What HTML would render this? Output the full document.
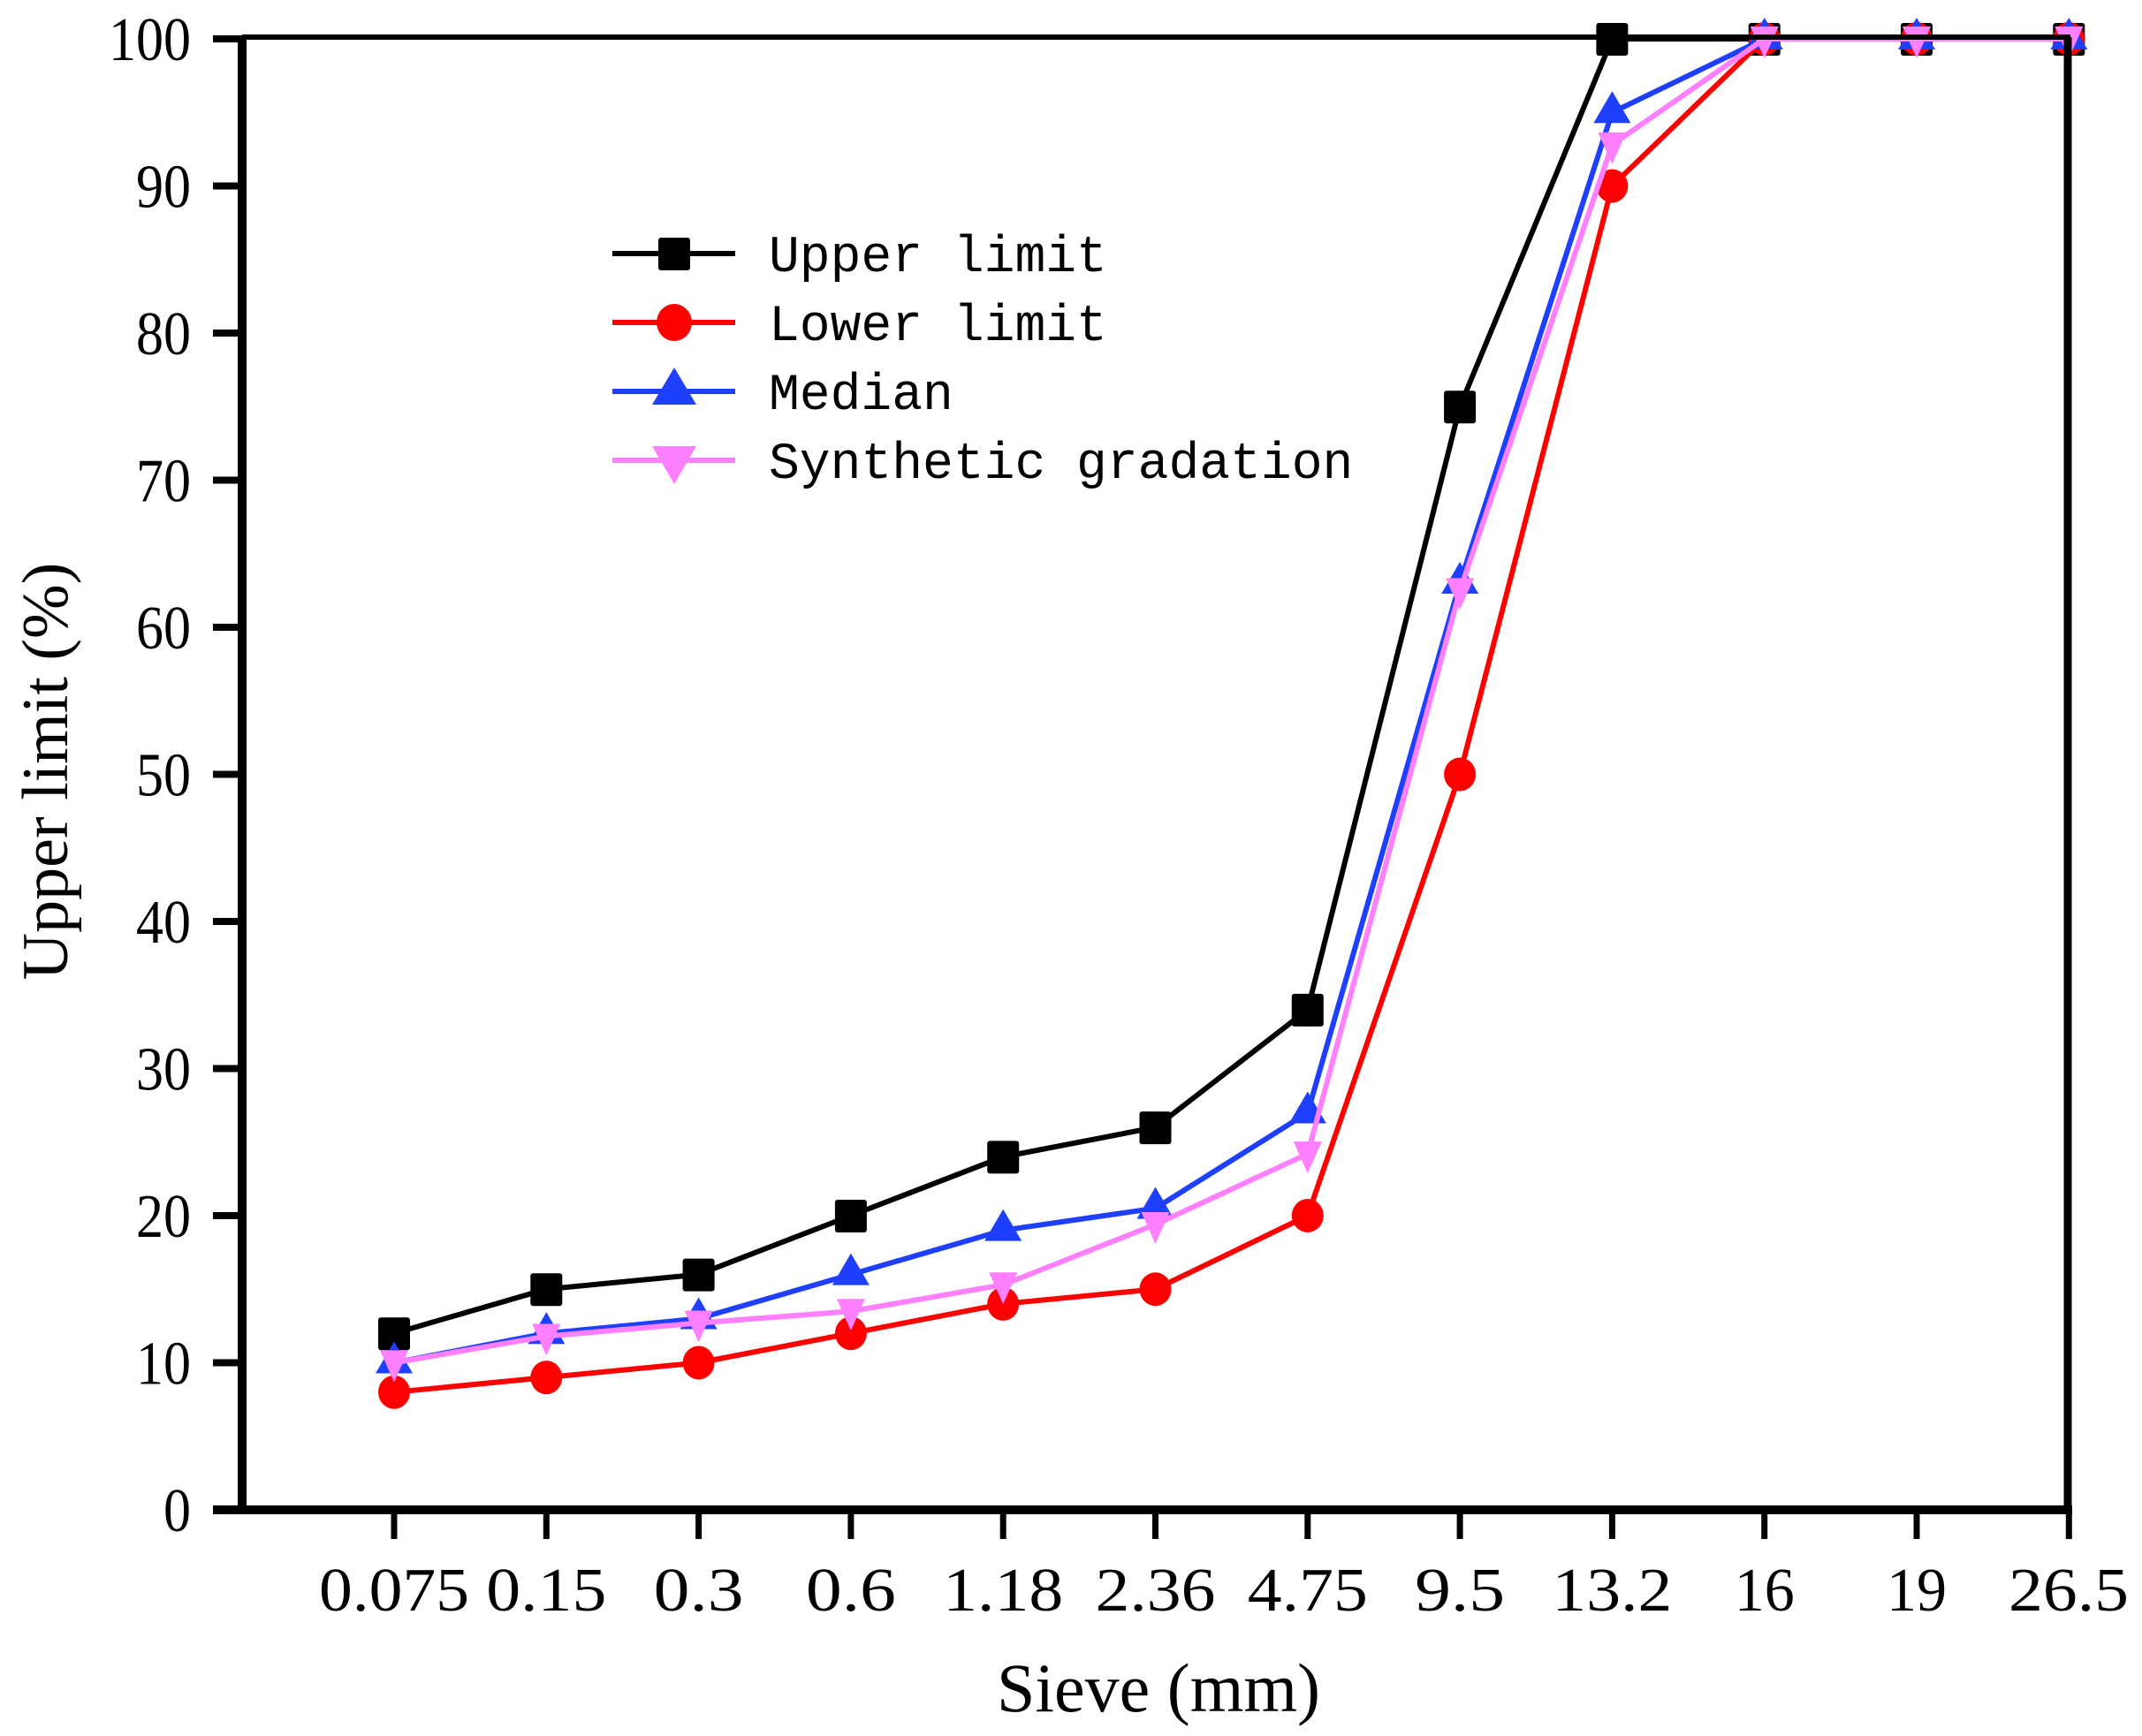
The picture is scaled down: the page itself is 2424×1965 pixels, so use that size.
<!DOCTYPE html>
<html><head><meta charset="utf-8"><style>html,body{margin:0;padding:0;background:#fff}svg{display:block}</style></head>
<body>
<svg width="2424" height="1965" viewBox="0 0 2424 1965" xmlns="http://www.w3.org/2000/svg">
<rect width="2424" height="1965" fill="#fff"/>
<g id="plot"></g>
<line x1="274" y1="42" x2="2343" y2="42" stroke="#000" stroke-width="6"/>
<line x1="2340" y1="42" x2="2340" y2="1709" stroke="#000" stroke-width="9"/>
<line x1="274" y1="40" x2="274" y2="1713" stroke="#000" stroke-width="10"/>
<line x1="241" y1="1709" x2="2345" y2="1709" stroke="#000" stroke-width="10"/>
<g stroke="#000" stroke-width="8" id="yt"></g>
<g stroke="#000" stroke-width="7" id="xt"></g>
<g font-family="Liberation Serif, serif" font-size="70" fill="#000" id="yl" text-anchor="end"></g>
<g font-family="Liberation Serif, serif" font-size="70" fill="#000" id="xl"></g>
<text x="1311" y="1937" font-family="Liberation Serif, serif" font-size="78" text-anchor="middle">Sieve (mm)</text>
<text transform="translate(76,873) rotate(-90)" font-family="Liberation Serif, serif" font-size="74" text-anchor="middle">Upper limit (%)</text>
<g font-family="Liberation Mono, monospace" font-size="58" fill="#000">
<line x1="693" y1="287" x2="832" y2="287" stroke="#000" stroke-width="6"/>
<rect x="745" y="269" width="36" height="37" rx="3" fill="#000"/>
<text x="870" y="307">Upper limit</text>
<line x1="693" y1="365" x2="832" y2="365" stroke="#ff0000" stroke-width="6"/>
<ellipse cx="763" cy="365" rx="20" ry="21" fill="#ff0000"/>
<text x="870" y="385">Lower limit</text>
<line x1="693" y1="443" x2="832" y2="443" stroke="#1f3fff" stroke-width="6"/>
<polygon points="763,416 788,458 738,458" fill="#1f3fff"/>
<text x="870" y="463">Median</text>
<line x1="693" y1="521" x2="832" y2="521" stroke="#ff80ff" stroke-width="6"/>
<polygon points="738,505 788,505 763,548" fill="#ff80ff"/>
<text x="870" y="541">Synthetic gradation</text>
</g>
<script>
var NS="http://www.w3.org/2000/svg";
function X(i){return 446+i*172.3}
function Y(v){return 1709-16.65*v}
function el(p,t,a,txt){var e=document.createElementNS(NS,t);for(var k in a)e.setAttribute(k,a[k]);if(txt!==undefined)e.textContent=txt;p.appendChild(e);return e}
var yt=document.getElementById('yt'),yl=document.getElementById('yl');
for(var v=0;v<=100;v+=10){var y=Y(v);el(yt,'line',{x1:241,y1:y,x2:274,y2:y});
 var s=String(v);el(yl,'text',{x:216,y:y+24,textLength:31*s.length,lengthAdjust:'spacingAndGlyphs'},s);}
var labs=["0.075","0.15","0.3","0.6","1.18","2.36","4.75","9.5","13.2","16","19","26.5"];
var xt=document.getElementById('xt'),xl=document.getElementById('xl');
for(var i=0;i<12;i++){var x=X(i);el(xt,'line',{x1:x,y1:1709,x2:x,y2:1742});
 var w=labs[i].length*34;var cx=x; if(i==11)cx=Math.min(x,2409-w/2);
 el(xl,'text',{x:cx-w/2,y:1823,textLength:w,lengthAdjust:'spacingAndGlyphs'},labs[i]);}
var P=document.getElementById('plot');
var series=[
 {c:"#000",m:"sq",d:[12,15,16,20,24,26,34,75,100,100,100,100]},
 {c:"#ff0000",m:"ci",d:[8,9,10,12,14,15,20,50,90,100,100,100]},
 {c:"#1f3fff",m:"up",d:[10,12,13,16,19,20.5,27,63,95,100,100,100]},
 {c:"#ff80ff",m:"dn",d:[10,11.8,12.7,13.5,15.3,19.4,24.2,62.5,92.8,100,100,100]}];
series.forEach(function(s){
 var pts=s.d.map(function(v,i){return X(i)+","+Y(v)}).join(" ");
 el(P,'polyline',{points:pts,fill:"none",stroke:s.c,"stroke-width":6,"stroke-linejoin":"round"});
 s.d.forEach(function(v,i){var x=X(i),y=Y(v);
  if(s.m=="sq")el(P,'rect',{x:x-18,y:y-18,width:36,height:37,rx:3,fill:s.c});
  else if(s.m=="ci")el(P,'ellipse',{cx:x,cy:y,rx:18,ry:19,fill:s.c});
  else if(s.m=="up")el(P,'polygon',{points:(x)+","+(y-24)+" "+(x+21)+","+(y+12)+" "+(x-21)+","+(y+12),fill:s.c});
  else el(P,'polygon',{points:(x-16)+","+(y-14)+" "+(x+16)+","+(y-14)+" "+(x)+","+(y+22),fill:s.c});
 });
});
</script>
</svg>
</body></html>
